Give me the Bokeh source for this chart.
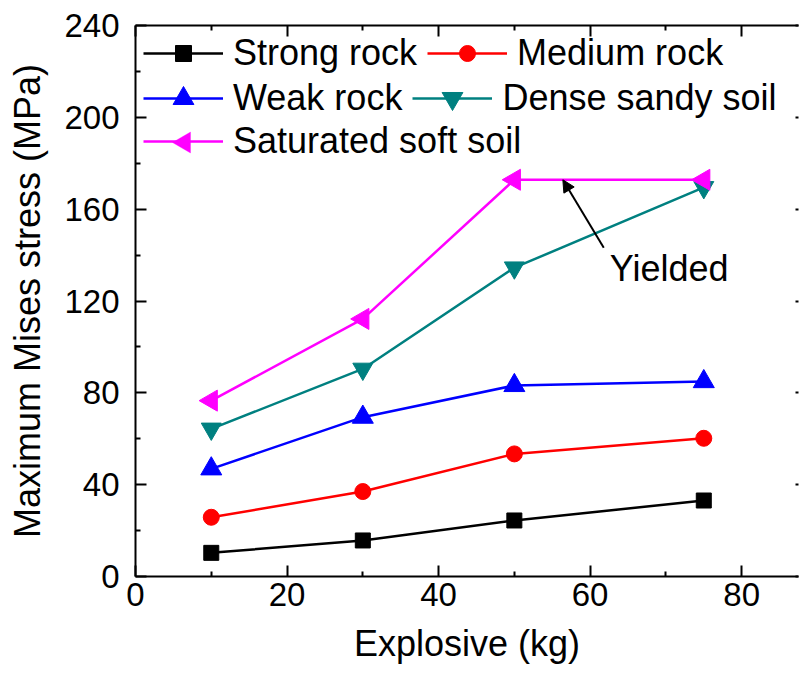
import math
from bokeh.plotting import figure
from bokeh.models import (Range1d, LinearAxis, FixedTicker, Legend, LegendItem,
                          Arrow, NormalHead, Label, PolyAnnotation, CustomLabelingPolicy)
from bokeh.embed import file_html
from bokeh.resources import INLINE

# ---------------- data ----------------
explosive = [10, 30, 50, 75]
strong_rock = [10.3, 15.7, 24.4, 33.1]
medium_rock = [25.8, 37.0, 53.4, 60.2]
weak_rock = [46.9, 69.4, 83.2, 84.9]
dense_sandy_soil = [64.3, 90.4, 134.5, 169.5]
saturated_soft_soil = [76.6, 112.2, 172.8, 172.8]

x_ticks = [0, 20, 40, 60, 80]
y_ticks = [0, 40, 80, 120, 160, 200, 240]
x_label = "Explosive (kg)"
y_label = "Maximum Mises stress (MPa)"
annotation_text = "Yielded"

FONT = "Liberation Sans"

# ---------------- figure ----------------
p = figure(width=799, height=675,
           x_range=Range1d(0, 87.5), y_range=Range1d(0, 240),
           output_backend="svg", toolbar_location=None,
           min_border_left=135, min_border_right=1,
           min_border_top=25, min_border_bottom=99,
           x_axis_label=x_label, y_axis_label=y_label)
p.grid.visible = False
p.outline_line_color = None
p.background_fill_color = "white"
p.border_fill_color = "white"


def minor_of(ticks):
    return [(a + b) / 2 for a, b in zip(ticks, ticks[1:])]


x_ticker = FixedTicker(ticks=x_ticks, minor_ticks=minor_of(x_ticks) + [x_ticks[-1] + 10])
y_ticker = FixedTicker(ticks=y_ticks, minor_ticks=minor_of(y_ticks))

no_labels = CustomLabelingPolicy(code="return new indices.constructor(indices.size, 0)")


def style_axis(ax, show_labels=True, tick_in=11, minor_in=5):
    ax.axis_line_width = 2
    ax.axis_line_color = "black"
    ax.major_tick_line_width = 2
    ax.minor_tick_line_width = 2
    ax.major_tick_line_color = "black"
    ax.minor_tick_line_color = "black"
    ax.major_tick_in = tick_in
    ax.major_tick_out = 0
    ax.minor_tick_in = minor_in
    ax.minor_tick_out = 0
    ax.major_label_text_font = FONT
    ax.major_label_text_color = "black"
    if show_labels:
        ax.major_label_text_font_size = "33px"
    else:
        ax.major_label_text_font_size = "0px"
        ax.major_label_policy = no_labels
        ax.major_label_standoff = 0
    ax.axis_label_text_font = FONT
    ax.axis_label_text_font_size = "36px"
    ax.axis_label_text_font_style = "normal"
    ax.axis_label_text_color = "black"


xa = p.xaxis[0]
xa.ticker = x_ticker
style_axis(xa)
xa.major_label_standoff = 6
xa.axis_label_standoff = 14

ya = p.yaxis[0]
ya.ticker = y_ticker
style_axis(ya)
ya.major_label_standoff = 16
ya.axis_label_standoff = 13

top_axis = LinearAxis(ticker=x_ticker)
style_axis(top_axis, show_labels=False)
p.add_layout(top_axis, "above")

right_axis = LinearAxis(ticker=y_ticker)
style_axis(right_axis, show_labels=False, tick_in=3, minor_in=0)
right_axis.axis_line_color = None
p.add_layout(right_axis, "right")

# ---------------- series ----------------
series = [
    ("Strong rock", strong_rock, "black", "square", 15, 0.0),
    ("Medium rock", medium_rock, "#FF0000", "circle", 16, 0.0),
    ("Weak rock", weak_rock, "#0000FF", "triangle", 21, 0.0),
    ("Dense sandy soil", dense_sandy_soil, "#008080", "inverted_triangle", 20, 0.0),
    ("Saturated soft soil", saturated_soft_soil, "#FF00FF", "triangle", 21, math.pi / 2),
]

renderers = {}
for name, ys, color, marker, size, ang in series:
    ln = p.line(explosive, ys, line_color=color, line_width=2.5)
    sc = p.scatter(explosive, ys, marker=marker, size=size, angle=ang,
                   fill_color=color, line_color=color)
    renderers[name] = (ln, sc)


# ---------------- legend (three rows, Origin style) ----------------
def make_row(items, x, y_center, glyph_h):
    lg = Legend(items=items, orientation="horizontal",
                location=(x, y_center - glyph_h / 2),
                padding=0, margin=0, spacing=10, label_standoff=10,
                glyph_width=80, glyph_height=glyph_h, label_height=glyph_h,
                border_line_color=None, background_fill_alpha=0,
                label_text_font=FONT, label_text_font_size="36px",
                label_text_color="black")
    p.add_layout(lg)
    return lg


make_row([LegendItem(label="Strong rock", renderers=list(renderers["Strong rock"])),
          LegendItem(label="Medium rock", renderers=list(renderers["Medium rock"]))],
         8, 522, 40)
make_row([LegendItem(label="Weak rock", renderers=list(renderers["Weak rock"])),
          LegendItem(label="Dense sandy soil", renderers=list(renderers["Dense sandy soil"]))],
         8, 478, 52)
make_row([LegendItem(label="Saturated soft soil", renderers=[renderers["Saturated soft soil"][0]])],
         8, 434, 40)

# left-pointing legend marker for the saturated soft soil row
cx, cy = 8 + 40, 434
p.add_layout(PolyAnnotation(xs=[cx - 11, cx + 7, cx + 7], ys=[cy, cy + 10.5, cy - 10.5],
                            xs_units="screen", ys_units="screen",
                            fill_color="#FF00FF", fill_alpha=1.0,
                            line_color="#FF00FF", line_width=1))

# ---------------- annotation ----------------
p.add_layout(Arrow(x_start=61.8, y_start=143.2, x_end=56.4, y_end=saturated_soft_soil[2],
                   line_color="black", line_width=2,
                   end=NormalHead(size=12, fill_color="black", line_color="black", line_width=1)))
p.add_layout(Label(x=62.6, y=134, text=annotation_text, text_baseline="alphabetic",
                   text_font=FONT, text_font_size="36px", text_color="black"))

open("out.html", "w").write(file_html(p, INLINE))
